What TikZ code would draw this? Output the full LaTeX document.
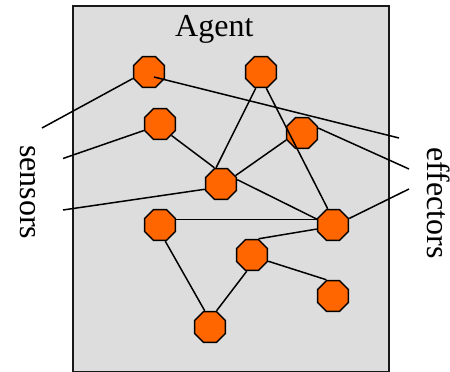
\documentclass[tikz,border=0pt]{standalone}
\usepackage{fontspec}
\setmainfont{Liberation Serif}
\usetikzlibrary{shapes.geometric}
\definecolor{panelgray}{HTML}{DDDDDD}
\definecolor{nodeorange}{HTML}{FF6600}
\tikzset{
  unit/.style={draw=black,line width=1.5pt,fill=nodeorange,regular polygon,regular polygon sides=8,inner sep=0pt,minimum size=33.5pt},
  link/.style={draw=black,line width=1.5pt},
  panel/.style={draw=black!90,line width=1.5pt,fill=panelgray},
  lbl/.style={inner sep=0pt,font=\fontsize{32}{36}\selectfont}
}
\begin{document}
\begin{tikzpicture}[x=1pt,y=-1pt]
\useasboundingbox (0,0) rectangle (450,372);
\path[panel] (73,6) rectangle (389,372);
\node[lbl,anchor=base west] (agent) at (175,36) {Agent};
\node[lbl,anchor=base west,rotate=-90] (sensors) at (20.5,145) {sensors};
\node[lbl,anchor=base west,rotate=-90] (effectors) at (427,147) {effectors};
\node[unit] (n1) at (149,72) {};
\node[unit] (n2) at (261,72) {};
\node[unit] (n3) at (160,124) {};
\node[unit] (n4) at (302,133) {};
\node[unit] (n5) at (221,184) {};
\node[unit] (n6) at (160,225) {};
\node[unit] (n7) at (333,225) {};
\node[unit] (n8) at (252,255) {};
\node[unit] (n9) at (333,296) {};
\node[unit] (n10) at (210,327) {};
\coordinate (s1) at (42,128);
\coordinate (s2) at (63,158.5);
\coordinate (s3) at (63,210);
\coordinate (e1) at (399,138);
\coordinate (e2) at (409,169);
\coordinate (e3) at (409,189);
\coordinate (start1) at (154,77);
\draw[link] (s1) -- (n1.202);
\draw[link] (s2) -- (n3.202);
\draw[link] (s3) -- (n5.198);
\draw[link] (start1) -- (e1);
\draw[link] (n4.17) -- (e2);
\draw[link] (n7.22) -- (e3);
\draw[link] (n3.315) -- (n5.112);
\draw[link] (n2.252) -- (n5.107);
\draw[link] (n2.288) -- (n7.108);
\draw[link] (n4.204) -- (n5.30);
\draw[link] (n5.15) -- (n7.160);
\draw[link] (n6.18) -- (n7.162);
\draw[link] (n6.288) -- (n10.108);
\draw[link] (n8.252) -- (n10.68);
\draw[link] (n8.68) -- (n7.194);
\draw[link] (n8.339) -- (n9.112);
\end{tikzpicture}
\end{document}
